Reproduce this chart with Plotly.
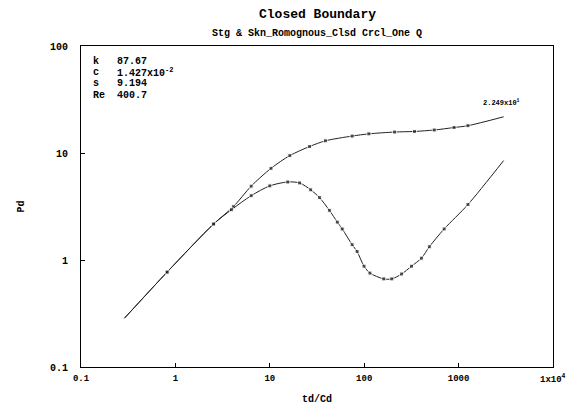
import plotly.graph_objects as go

# ---- data ----
pd_td = [0.289, 0.817, 2.54, 4.11, 6.35, 10.3, 16.3, 26.4, 38.8, 74.5, 112, 210, 341, 552, 895, 1256, 3000]
pd_val = [0.286, 0.771, 2.17, 3.15, 4.9, 7.19, 9.46, 11.5, 13.0, 14.4, 15.1, 15.7, 15.9, 16.4, 17.3, 18.0, 21.8]

der_td = [0.289, 0.817, 2.54, 3.92, 6.35, 10.0, 15.5, 20.7, 27.1, 33.6, 42.8, 51.9, 58.5, 74.5, 84.1, 99.6,
          115, 161, 196, 249, 317, 404, 490, 703, 1256, 3000]
der_val = [0.286, 0.771, 2.17, 2.95, 3.99, 4.93, 5.36, 5.25, 4.53, 3.83, 2.91, 2.26, 1.95, 1.39, 1.20, 0.875,
           0.755, 0.666, 0.666, 0.740, 0.875, 1.04, 1.33, 1.95, 3.30, 8.5]

x_tickvals = [0.1, 1, 10, 100, 1000, 10000]
x_ticktext = ["0.1", "1", "10", "100", "1000", "1x10<sup>4</sup>"]
y_tickvals = [0.1, 1, 10, 100]
y_ticktext = ["0.1", "1", "10", "100"]

param_names = ["k", "c", "s", "Re"]
param_values = ["87.67", "1.427x10<sup>-2</sup>", "9.194", "400.7"]
end_label = "2.249x10<sup>1</sup>"

title_text = "Closed Boundary"
subtitle_text = "Stg & Skn_Romognous_Clsd Crcl_One Q"

FONT = "Liberation Mono, Courier New, monospace"
INK = "#222222"

def msizes(n):
    return [0] + [4] * (n - 2) + [0]

fig = go.Figure()
fig.add_trace(go.Scatter(
    x=pd_td, y=pd_val, mode="lines+markers",
    line=dict(color=INK, width=1, shape="spline", smoothing=0.8),
    marker=dict(symbol="square", size=msizes(len(pd_td)), color=INK),
    showlegend=False))
fig.add_trace(go.Scatter(
    x=der_td, y=der_val, mode="lines+markers",
    line=dict(color=INK, width=1, shape="spline", smoothing=0.8),
    marker=dict(symbol="square", size=msizes(len(der_td)), color=INK),
    showlegend=False))

# titles
fig.add_annotation(xref="paper", yref="paper", x=0.5, y=1.0, yshift=32,
                   text="<b>%s</b>" % title_text, showarrow=False, xanchor="center", yanchor="middle",
                   font=dict(family=FONT, size=13, color="black"))
fig.add_annotation(xref="paper", yref="paper", x=0.5, y=1.0, yshift=13,
                   text="<b>%s</b>" % subtitle_text, showarrow=False, xanchor="center", yanchor="middle",
                   font=dict(family=FONT, size=10, color="black"))

# parameter block
for i, (n, v) in enumerate(zip(param_names, param_values)):
    fig.add_annotation(xref="paper", yref="paper", x=0.022, y=0.952 - i * 0.035,
                       text="<b>%s</b>" % n, showarrow=False, xanchor="left", yanchor="middle",
                       font=dict(family=FONT, size=10, color="black"))
    fig.add_annotation(xref="paper", yref="paper", x=0.072, y=0.952 - i * 0.035,
                       text="<b>%s</b>" % v, showarrow=False, xanchor="left", yanchor="middle",
                       font=dict(family=FONT, size=10, color="black"))

fig.add_annotation(x=3.45, y=1.41, xref="x", yref="y", text="<b>%s</b>" % end_label,
                   showarrow=False, xanchor="center", yanchor="bottom",
                   font=dict(family=FONT, size=7, color="black"))

# last x tick label drawn as an annotation so it stays inside the page
fig.add_annotation(x=4, y=0, xref="x", yref="paper", yshift=-12,
                   text="<b>%s</b>" % x_ticktext[-1], showarrow=False,
                   xanchor="center", yanchor="middle",
                   font=dict(family=FONT, size=9, color="black"))

# the page body adds an 8px offset, so the figure is drawn 8px smaller each way
fig.update_layout(
    width=566, height=407,
    margin=dict(l=68, r=21, t=38, b=42),
    paper_bgcolor="white", plot_bgcolor="white",
    font=dict(family=FONT, size=10, color="black"),
)
fig.update_xaxes(type="log", range=[-1, 4], tickvals=x_tickvals,
                 ticktext=["<b>%s</b>" % t for t in x_ticktext[:-1]] + [" "],
                 showgrid=False, zeroline=False, showline=True, linecolor="black", linewidth=1,
                 mirror=True, ticks="inside", ticklen=4, tickcolor="black",
                 ticklabelstandoff=2,
                 title=dict(text="<b>td/Cd</b>", font=dict(family=FONT, size=10), standoff=12),
                 tickfont=dict(family=FONT, size=9))
fig.update_yaxes(type="log", range=[-1, 2], tickvals=y_tickvals,
                 ticktext=["<b>%s</b>" % t for t in y_ticktext],
                 showgrid=False, zeroline=False, showline=True, linecolor="black", linewidth=1,
                 mirror=True, ticks="inside", ticklen=4, tickcolor="black",
                 ticklabelstandoff=10,
                 title=dict(text="<b>Pd</b>", font=dict(family=FONT, size=10), standoff=23),
                 tickfont=dict(family=FONT, size=10))

fig.write_html("out.html")
